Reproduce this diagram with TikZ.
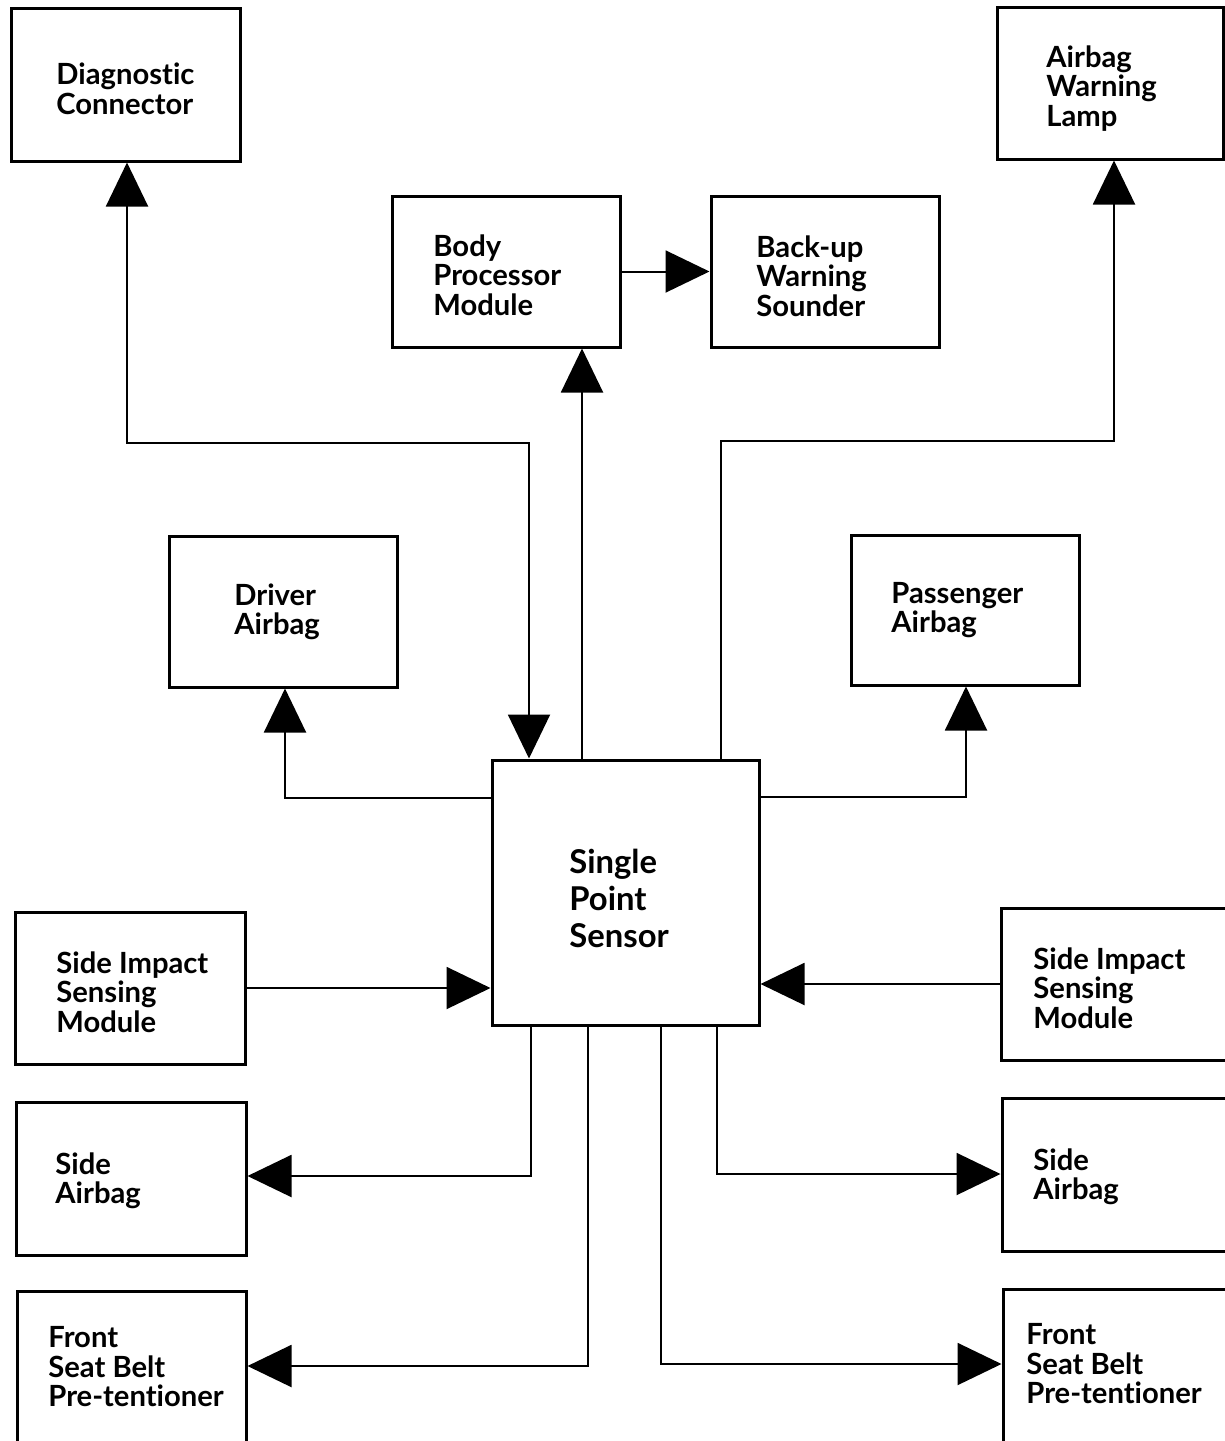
\documentclass[tikz,border=0pt]{standalone}
\usepackage{fontspec}
\setmainfont{Lato}[Ligatures=CommonOff]
\usetikzlibrary{arrows.meta}
\begin{document}
\begin{tikzpicture}[x=0.5pt,y=-0.5pt,
  box/.style={draw, line width=1.5pt, inner sep=0pt},
  sz/.style 2 args={minimum width=#1*0.5pt, minimum height=#2*0.5pt},
  lbl/.style={anchor=west, align=left, inner sep=0pt, font=\fontsize{14.6}{14.75}\selectfont\bfseries},
  big/.style={font=\fontsize{16.4}{18.5}\selectfont\bfseries},
  con/.style={line width=1pt},
  tip/.style={-{Triangle[length=22pt,width=21pt]}},
  dtip/.style={{Triangle[length=22pt,width=21pt]}-{Triangle[length=22pt,width=21pt]}}
]
\useasboundingbox (0,0) rectangle (1225,1441);
% boxes
\node[box, sz={229}{153}] (diag) at (125.5,84.5) {};
\node[box, sz={226}{152}] (lamp) at (1110,83) {};
\node[box, sz={228}{151}] (bpm) at (506,271.5) {};
\node[box, sz={228}{151}] (sounder) at (825,271.5) {};
\node[box, sz={228}{151}] (driver) at (283,611.5) {};
\node[box, sz={228}{150}] (pass) at (965,610) {};
\node[box, sz={267}{265}] (sensor) at (625.5,892.5) {};
\node[box, sz={230}{152}] (sismL) at (130,988) {};
\node[box, sz={229}{152}] (sismR) at (1115.5,984) {};
\node[box, sz={230}{153}] (airL) at (131,1178.5) {};
\node[box, sz={229}{153}] (airR) at (1116.5,1174.5) {};
\node[box, sz={229}{154}] (fsbL) at (131.5,1368) {};
\node[box, sz={229}{154}] (fsbR) at (1117.5,1366.5) {};
% labels
\node[lbl] (tdiag) at (56,89) {Diagnostic\\Connector};
\node[lbl] (tlamp) at (1046,88.5) {Airbag\\Warning\\Lamp};
\node[lbl] (tbpm) at (433,275) {Body\\Processor\\Module};
\node[lbl] (tsounder) at (756,276) {Back-up\\Warning\\Sounder};
\node[lbl] (tdriver) at (234,612) {Driver\\Airbag};
\node[lbl] (tpass) at (891,610) {Passenger\\Airbag};
\node[lbl, big] (tsensor) at (569,898) {Single\\Point\\Sensor};
\node[lbl] (tsismL) at (56,992) {Side Impact\\Sensing\\Module};
\node[lbl] (tsismR) at (1033,988) {Side Impact\\Sensing\\Module};
\node[lbl] (tairL) at (55,1181) {Side\\Airbag};
\node[lbl] (tairR) at (1033,1177) {Side\\Airbag};
\node[lbl] (tfsbL) at (48,1367) {Front\\Seat Belt\\Pre-tentioner};
\node[lbl] (tfsbR) at (1026,1364) {Front\\Seat Belt\\Pre-tentioner};
% bend points
\coordinate (d1) at (127,443);
\coordinate (d2) at (529,443);
\coordinate (b1) at (582,443);
\coordinate (l1) at (721,441);
\coordinate (l2) at (1114,441);
\coordinate (r1) at (285,798);
\coordinate (p1) at (966,797);
\coordinate (a1) at (531,1176);
\coordinate (a2) at (717,1174);
\coordinate (f1) at (588,1366);
\coordinate (f2) at (661,1364);
% connectors
\draw[con, dtip] (d1 |- diag.south) -- (d1) -- (d2) -- (d2 |- sensor.north);
\draw[con, tip] (b1 |- sensor.north) -- (b1 |- bpm.south);
\draw[con, tip] (l1 |- sensor.north) -- (l1) -- (l2) -- (l2 |- lamp.south);
\draw[con, tip] (bpm.east) -- (sounder.west);
\draw[con, tip] (sensor.west |- r1) -- (r1) -- (r1 |- driver.south);
\draw[con, tip] (sensor.east |- p1) -- (p1) -- (p1 |- pass.south);
\draw[con, tip] (sismL.east) -- (sensor.west |- sismL.east);
\draw[con, tip] (sismR.west) -- (sensor.east |- sismR.west);
\draw[con, tip] (a1 |- sensor.south) -- (a1) -- (airL.east |- a1);
\draw[con, tip] (a2 |- sensor.south) -- (a2) -- (airR.west |- a2);
\draw[con, tip] (f1 |- sensor.south) -- (f1) -- (fsbL.east |- f1);
\draw[con, tip] (f2 |- sensor.south) -- (f2) -- (fsbR.west |- f2);
\end{tikzpicture}
\end{document}
